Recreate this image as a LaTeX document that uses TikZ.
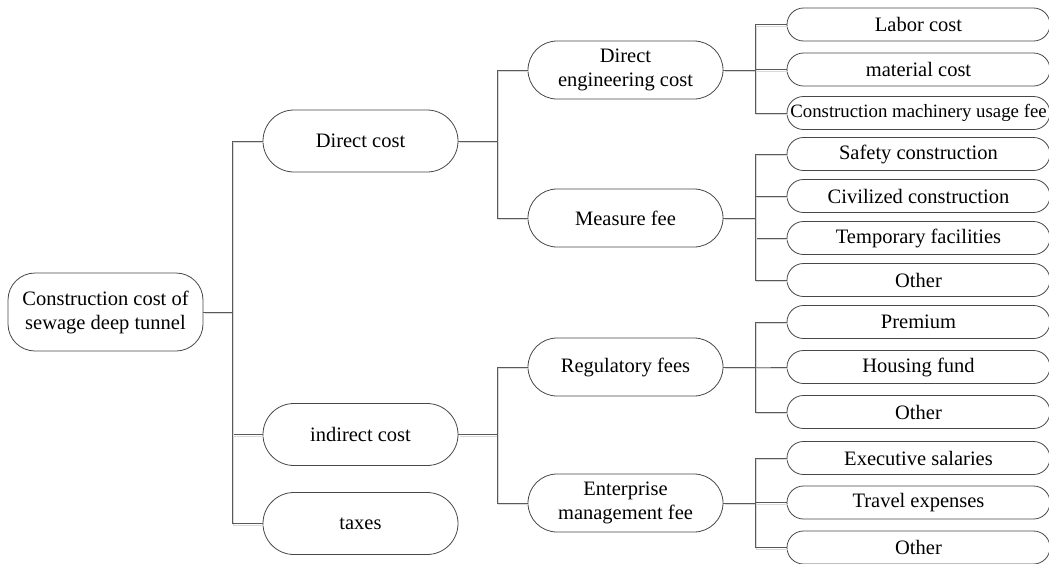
\documentclass[tikz,border=0pt]{standalone}
\usepackage{fontspec}
\setmainfont{Liberation Serif}
\tikzset{
  box/.style={draw=black!72, line width=0.8pt, fill=white, align=center,
    font=\fontsize{20.5}{24}\selectfont, inner sep=0pt},
  rootbox/.style={box, minimum width=195pt, minimum height=78pt, rounded corners=27pt},
  lvone/.style={box, minimum width=195pt, minimum height=62pt, rounded corners=31pt},
  lvtwo/.style={box, minimum width=195pt, minimum height=58pt, rounded corners=29pt},
  leaf/.style={box, minimum width=263pt, minimum height=33pt, rounded corners=16.5pt},
  link/.style={draw=black!65, line width=0.9pt,
    preaction={draw=black!15, line width=1.2pt, transform canvas={shift={(1.6pt,-1.6pt)}}}},
}
\begin{document}
\begin{tikzpicture}[x=1pt,y=-1pt]
\useasboundingbox (0,0) rectangle (1049,563);
% bus coordinates
\coordinate (b1) at (232,0);
\coordinate (b2) at (497,0);
\coordinate (b3) at (755,0);
% nodes
\node[rootbox] (root) at (105.5,312) {Construction cost of\\sewage deep tunnel};
\node[lvone] (dc) at (360.5,141) {Direct cost};
\node[lvone] (ic) at (360.5,434.5) {indirect cost};
\node[lvone] (tx) at (360.5,523.5) {taxes};
\node[lvtwo] (dec) at (625.5,70) {Direct\\engineering cost};
\node[lvtwo] (mf) at (625.5,218) {Measure fee};
\node[lvtwo] (rf) at (625.5,367) {Regulatory fees};
\node[lvtwo] (emf) at (625.5,503) {Enterprise\\management fee};
\node[leaf] (l1) at (918.5,24.5) {Labor cost};
\node[leaf] (l2) at (918.5,69.5) {material cost};
\node[leaf, font=\fontsize{18.8}{21}\selectfont] (l3) at (918.5,113) {Construction machinery usage fee};
\node[leaf] (m1) at (918.5,154) {Safety construction};
\node[leaf] (m2) at (918.5,196) {Civilized construction};
\node[leaf] (m3) at (918.5,238) {Temporary facilities};
\node[leaf] (m4) at (918.5,280) {Other};
\node[leaf] (r1) at (918.5,322) {Premium};
\node[leaf] (r2) at (918.5,367) {Housing fund};
\node[leaf] (r3) at (918.5,412) {Other};
\node[leaf] (e1) at (918.5,458) {Executive salaries};
\node[leaf] (e2) at (918.5,502.5) {Travel expenses};
\node[leaf] (e3) at (918.5,547.5) {Other};
% connectors
\foreach \c in {dc,ic,tx}{
  \draw[link] (root.east) -- (root.east -| b1) |- (\c.west);
}
\foreach \c in {dec,mf}{
  \draw[link] (dc.east) -- (dc.east -| b2) |- (\c.west);
}
\foreach \c in {rf,emf}{
  \draw[link] (ic.east) -- (ic.east -| b2) |- (\c.west);
}
\foreach \c in {l1,l2,l3}{
  \draw[link] (dec.east) -- (dec.east -| b3) |- (\c.west);
}
\foreach \c in {m1,m2,m3,m4}{
  \draw[link] (mf.east) -- (mf.east -| b3) |- (\c.west);
}
\foreach \c in {r1,r2,r3}{
  \draw[link] (rf.east) -- (rf.east -| b3) |- (\c.west);
}
\foreach \c in {e1,e2,e3}{
  \draw[link] (emf.east) -- (emf.east -| b3) |- (\c.west);
}
\end{tikzpicture}
\end{document}
